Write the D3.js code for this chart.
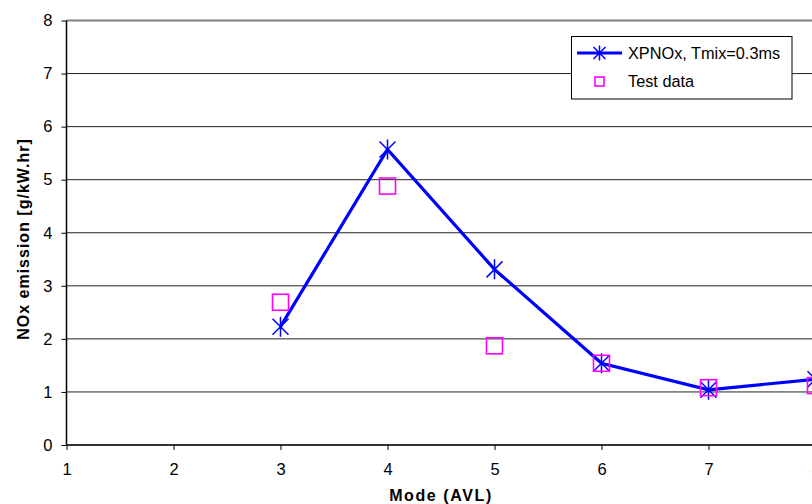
<!DOCTYPE html>
<html><head><meta charset="utf-8">
<script src="https://cdn.jsdelivr.net/npm/d3@7"></script>
<style>body{margin:0;background:#fff}svg{display:block;font-family:Arial,"Liberation Sans",sans-serif}</style>
</head><body><svg id="c" width="812" height="504"></svg>
<script>
const modes = [3, 4, 5, 6, 7, 8];
const xpnox = [2.23, 5.57, 3.31, 1.54, 1.04, 1.24];
const testData = [2.69, 4.88, 1.87, 1.54, 1.08, 1.12];
const xTicks = [1, 2, 3, 4, 5, 6, 7, 8];
const yTicks = [0, 1, 2, 3, 4, 5, 6, 7, 8];
const seriesNames = ["XPNOx, Tmix=0.3ms", "Test data"];

const svg = d3.select("#c");
const x = d3.scaleLinear().domain([1, 8]).range([66.5, 815.5]);
const y = d3.scaleLinear().domain([0, 8]).range([445, 20.5]);
const FF = "Arial, 'Liberation Sans', sans-serif";

// gridlines
svg.append("g").selectAll("line").data(yTicks.filter(d => d > 0)).join("line")
  .attr("x1", x(1)).attr("x2", 812).attr("y1", d => y(d)).attr("y2", d => y(d))
  .attr("stroke", d => d === 8 ? "#808080" : "#222").attr("stroke-width", d => d === 8 ? 2 : 1);

// y axis
const ya = svg.append("g").attr("transform", `translate(${x(1)},0)`)
  .call(d3.axisLeft(y).tickValues(yTicks).tickFormat(d3.format("d")).tickSize(5).tickPadding(9));
ya.select(".domain").attr("stroke", "#000").attr("stroke-width", 1.5).attr("d", `M0,${y(0)}V${y(8)}`);
ya.selectAll(".tick line").attr("stroke", "#000");
ya.selectAll("text").attr("font-size", 16.5).attr("fill", "#000").attr("font-family", FF);

// x axis
const xa = svg.append("g").attr("transform", `translate(0,${y(0)})`)
  .call(d3.axisBottom(x).tickValues(xTicks).tickFormat(d3.format("d")).tickSize(5).tickPadding(13));
xa.select(".domain").attr("stroke", "#333").attr("stroke-width", 2).attr("d", `M${x(1)},0H812`);
xa.selectAll(".tick line").attr("stroke", "#000");
xa.selectAll("text").attr("font-size", 16.5).attr("fill", "#000").attr("font-family", FF);

// axis titles
svg.append("text").attr("x", 441).attr("y", 501).attr("text-anchor", "middle")
  .attr("font-size", 16).attr("font-weight", "bold").attr("letter-spacing", 1.6).text("Mode (AVL)");
svg.append("text").attr("transform", "translate(29,239) rotate(-90)").attr("text-anchor", "middle")
  .attr("font-size", 16).attr("font-weight", "bold").attr("letter-spacing", 1).text("NOx emission [g/kW.hr]");

const starPath = s => `M${-s},${-s}L${s},${s}M${-s},${s}L${s},${-s}M0,${-s * 1.25}V${s * 1.25}`;
const pts = modes.map((m, i) => [m, xpnox[i]]);

// line
svg.append("path").datum(pts)
  .attr("d", d3.line().x(d => x(d[0])).y(d => y(d[1])))
  .attr("fill", "none").attr("stroke", "#0000FF").attr("stroke-width", 3.2);

// star markers
svg.append("g").selectAll("path").data(pts).join("path")
  .attr("transform", d => `translate(${x(d[0])},${y(d[1])})`)
  .attr("d", starPath(8)).attr("stroke", "#0000FF").attr("stroke-width", 1.5).attr("fill", "none");

// test data squares
svg.append("g").selectAll("rect").data(modes.map((m, i) => [m, testData[i]])).join("rect")
  .attr("x", d => x(d[0]) - 8).attr("y", d => y(d[1]) - 8).attr("width", 16).attr("height", 16)
  .attr("fill", "none").attr("stroke", "#FF00FF").attr("stroke-width", 1.6);

// legend
const lg = svg.append("g");
lg.append("rect").attr("x", 571.5).attr("y", 36.5).attr("width", 220.5).attr("height", 62.5)
  .attr("fill", "#fff").attr("stroke", "#000").attr("stroke-width", 1);
lg.append("line").attr("x1", 577).attr("x2", 622).attr("y1", 53).attr("y2", 53)
  .attr("stroke", "#0000FF").attr("stroke-width", 3.2);
lg.append("path").attr("transform", "translate(599.5,53)").attr("d", starPath(6))
  .attr("stroke", "#0000FF").attr("stroke-width", 1.5).attr("fill", "none");
lg.append("rect").attr("x", 595).attr("y", 77).attr("width", 9).attr("height", 9)
  .attr("fill", "none").attr("stroke", "#FF00FF").attr("stroke-width", 1.6);
lg.selectAll("text.l").data(seriesNames).join("text").attr("class", "l")
  .attr("x", 628).attr("y", (d, i) => 53 + i * 28.5).attr("dy", "0.35em")
  .attr("font-size", 16.3).attr("fill", "#000").text(d => d);
</script></body></html>
